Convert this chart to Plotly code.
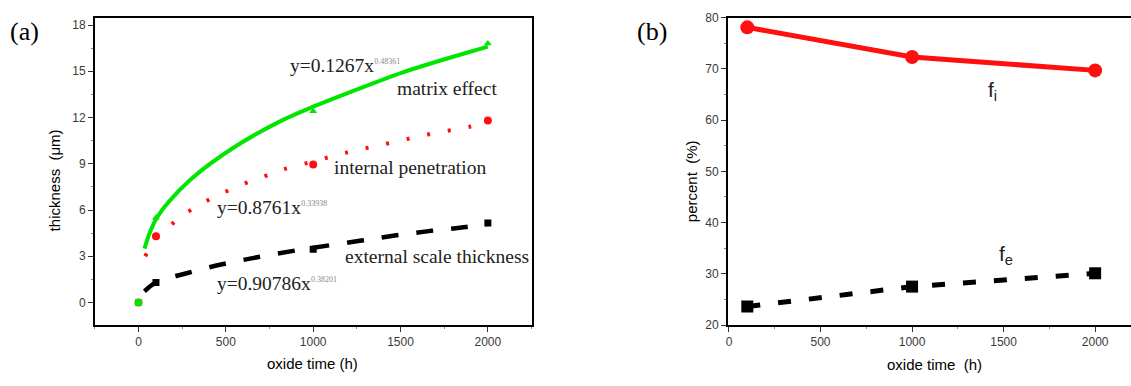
import plotly.graph_objects as go

# ---------------- Panel (a) data ----------------
pts_x = [0, 100, 1000, 2000]
matrix_y = [0, 5.5, 12.4, 16.8]
internal_y = [0, 4.3, 8.95, 11.8]
external_y = [0, 1.3, 3.45, 5.15]

# fitted curves, values
matrix_fit_x = [34, 60, 100, 171, 300, 552, 819, 1000, 1200, 1505, 1700, 1850, 2000]
matrix_fit_y = [3.5, 4.4, 5.4, 6.5, 8.0, 10.1, 11.8, 12.7, 13.6, 14.9, 15.6, 16.1, 16.6]
internal_fit_x = [38, 100, 225, 343, 463, 581, 701, 819, 1000, 1181, 1419, 1657, 1895, 2000]
internal_fit_y = [3.0, 4.1, 5.4, 6.3, 7.0, 7.6, 8.1, 8.6, 9.15, 9.7, 10.3, 10.9, 11.4, 11.6]
external_fit_x = [34, 100, 275, 486, 686, 886, 1000, 1276, 1476, 1676, 1876, 2000]
external_fit_y = [0.73, 1.3, 1.9, 2.5, 2.95, 3.35, 3.55, 4.02, 4.36, 4.65, 4.9, 5.1]

# ---------------- Panel (b) data ----------------
b_x = [100, 1000, 2000]
fi_y = [78.1, 72.3, 69.7]
fe_y = [23.6, 27.5, 30.1]

GREEN = "#00e600"
RED = "#ff1010"

fig = go.Figure()

# Panel (a) curves
fig.add_trace(go.Scatter(x=external_fit_x, y=external_fit_y, mode="lines",
                         line=dict(color="black", width=4.5, dash="17px,18px", shape="spline"),
                         xaxis="x", yaxis="y", hoverinfo="skip"))
fig.add_trace(go.Scatter(x=internal_fit_x, y=internal_fit_y, mode="lines",
                         line=dict(color=RED, width=4, dash="3px,18px", shape="spline"),
                         xaxis="x", yaxis="y", hoverinfo="skip"))
fig.add_trace(go.Scatter(x=matrix_fit_x, y=matrix_fit_y, mode="lines",
                         line=dict(color=GREEN, width=4, shape="spline", smoothing=0.8),
                         xaxis="x", yaxis="y", hoverinfo="skip"))
# Panel (a) markers
fig.add_trace(go.Scatter(x=pts_x, y=external_y, mode="markers",
                         marker=dict(symbol="square", size=7, color="black"),
                         xaxis="x", yaxis="y"))
fig.add_trace(go.Scatter(x=pts_x, y=internal_y, mode="markers",
                         marker=dict(symbol="circle", size=8, color=RED),
                         xaxis="x", yaxis="y"))
fig.add_trace(go.Scatter(x=pts_x, y=matrix_y, mode="markers",
                         marker=dict(symbol=["square", "triangle-up", "triangle-up", "triangle-up"],
                                     size=7, color=GREEN),
                         xaxis="x", yaxis="y"))

# Panel (b)
fig.add_trace(go.Scatter(x=b_x, y=fi_y, mode="lines+markers",
                         line=dict(color=RED, width=5),
                         marker=dict(symbol="circle", size=14, color=RED),
                         xaxis="x2", yaxis="y2"))
fig.add_trace(go.Scatter(x=b_x, y=fe_y, mode="lines+markers",
                         line=dict(color="black", width=5, dash="13px,18px"),
                         marker=dict(symbol="square", size=12, color="black"),
                         xaxis="x2", yaxis="y2"))

tickfont = dict(family="Liberation Sans, Arial", size=12, color="#3a3a3a")
ydom = [1 - 330 / 386, 1 - 11 / 386]


def axis(**kw):
    base = dict(showgrid=False, zeroline=False, showline=True, linecolor="black",
                linewidth=1.5, ticks="outside", ticklen=5, tickcolor="#333333",
                tickwidth=1, tickfont=tickfont)
    base.update(kw)
    return base


fig.update_layout(
    width=1131, height=386,
    margin=dict(l=0, r=0, t=0, b=0),
    paper_bgcolor="white", plot_bgcolor="white",
    showlegend=False,
    xaxis=axis(domain=[93 / 1131, 531 / 1131], range=[-250, 2253], dtick=500,
               tick0=0, mirror=True, anchor="y",
               minor=dict(ticks="outside", ticklen=2, tickcolor="#888888", dtick=250)),
    yaxis=axis(domain=ydom, range=[-1.46, 18.48], dtick=3, tick0=0, mirror=True,
               anchor="x",
               minor=dict(ticks="outside", ticklen=2, tickcolor="#888888", dtick=1.5)),
    xaxis2=axis(domain=[727 / 1131, 1.0], range=[-7, 2196], dtick=500, tick0=0,
                mirror=True, anchor="y2",
                minor=dict(ticks="outside", ticklen=2, tickcolor="#888888", dtick=250)),
    yaxis2=axis(domain=ydom, range=[20, 80], dtick=10, tick0=20, mirror=False,
                anchor="x2",
                minor=dict(ticks="outside", ticklen=2, tickcolor="#888888", dtick=5)),
)

serif = "Liberation Serif, Times New Roman"
sans = "Liberation Sans, Arial"
sup_style = "font-size:8px;color:#888888"

annots = [
    # panel labels
    dict(text="(a)", x=23, y=25, font=dict(family=serif, size=26, color="black")),
    dict(text="(b)", x=651, y=25, font=dict(family=serif, size=26, color="black")),
    # axis titles
    dict(text="oxide time (h)", x=311, y=370, font=dict(family=sans, size=15, color="black")),
    dict(text="oxide time  (h)", x=934, y=371, font=dict(family=sans, size=15, color="black")),
    dict(text="thickness  (μm)", x=53, y=180, textangle=-90,
         font=dict(family=sans, size=15, color="black")),
    dict(text="percent  (%)", x=691, y=181, textangle=-90,
         font=dict(family=sans, size=15, color="black")),
]
for a in annots:
    fig.add_annotation(xref="paper", yref="paper", x=a["x"] / 1131, y=1 - a["y"] / 386,
                       text=a["text"], showarrow=False, font=a["font"],
                       textangle=a.get("textangle", 0), xanchor="center", yanchor="middle")

data_annots = [
    ("y=0.1267x<sup><span style='%s'>0.48361</span></sup>" % sup_style, 857, 15.4),
    ("matrix effect", 1467, 13.9),
    ("internal penetration", 1105, 8.75),
    ("y=0.8761x<sup><span style='%s'>0.33938</span></sup>" % sup_style, 437, 6.15),
    ("external scale thickness", 1171, 3.0),
    ("y=0.90786x<sup><span style='%s'>0.38201</span></sup>" % sup_style, 437, 1.25),
]
for t, x, y in data_annots:
    fig.add_annotation(xref="x", yref="y", x=x, y=y, text=t, showarrow=False,
                       xanchor="left", yanchor="middle",
                       font=dict(family=serif, size=19.5, color="#222222"))

fig.add_annotation(xref="x2", yref="y2", x=1405, y=65.6, text="f<sub>i</sub>", showarrow=False,
                   xanchor="left", yanchor="middle",
                   font=dict(family=sans, size=21, color="#222222"))
fig.add_annotation(xref="x2", yref="y2", x=1462, y=33.6, text="f<sub>e</sub>", showarrow=False,
                   xanchor="left", yanchor="middle",
                   font=dict(family=sans, size=21, color="#222222"))

fig.write_html("out.html")
